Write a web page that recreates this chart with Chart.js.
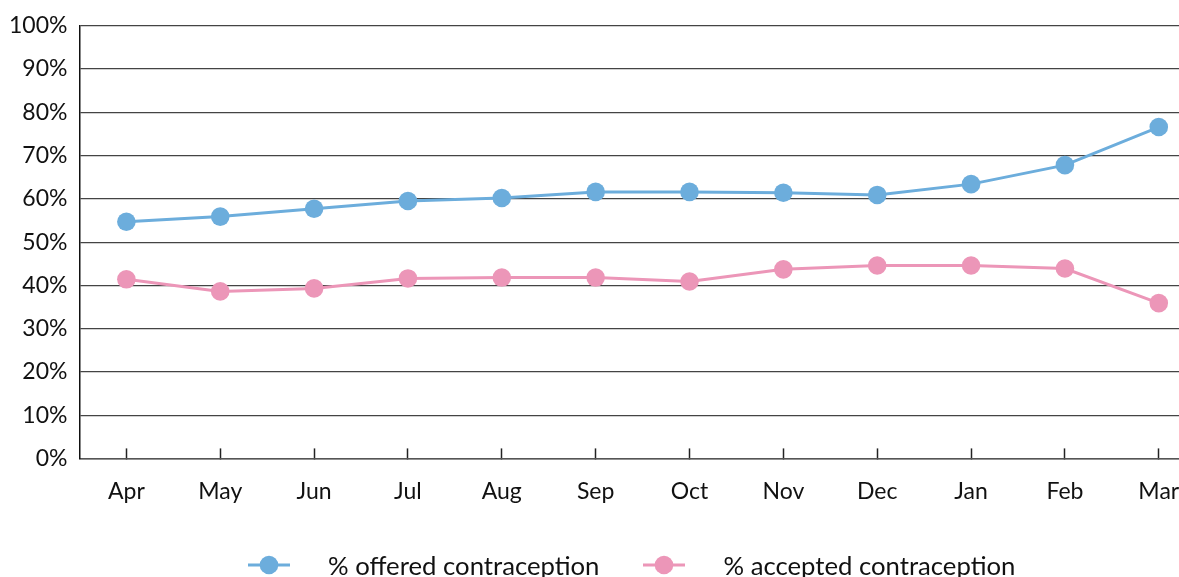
<!DOCTYPE html>
<html>
<head>
<meta charset="utf-8">
<script src="https://cdn.jsdelivr.net/npm/chart.js@4/dist/chart.umd.min.js"></script>
<style>
  html, body { margin: 0; padding: 0; background: #fff; overflow: hidden; }
  #wrap { position: absolute; left: -3px; top: 0; width: 1218px; height: 577px; }
  #legend {
    position: absolute; left: 248px; top: 550px; height: 30px;
    display: flex; align-items: center;
    font-family: Lato, "Open Sans", sans-serif; font-size: 25.7px; color: #111;
    white-space: nowrap;
  }
  #legend .item { display: flex; align-items: center; margin-right: 44px; }
  #legend svg { margin-right: 38px; }
</style>
</head>
<body>
<div id="wrap"><canvas id="lineChart" width="1218" height="577"></canvas></div>
<div id="legend"></div>
<script>
// data
const months = ['Apr', 'May', 'Jun', 'Jul', 'Aug', 'Sep', 'Oct', 'Nov', 'Dec', 'Jan', 'Feb', 'Mar'];
const offered = [54.7, 55.9, 57.7, 59.5, 60.2, 61.6, 61.6, 61.4, 60.9, 63.4, 67.8, 76.6];
const accepted = [41.4, 38.6, 39.3, 41.6, 41.8, 41.8, 40.9, 43.7, 44.6, 44.6, 43.9, 35.9];
const yTicks = [0, 10, 20, 30, 40, 50, 60, 70, 80, 90, 100];

const blue = '#6caddc';
const pink = '#ec96b8';
const fontFamily = 'Lato, "Open Sans", sans-serif';

// html legend built from the chart's own legend items
const htmlLegend = {
    id: 'htmlLegend',
    afterUpdate: function(chart) {
        const box = document.getElementById('legend');
        box.innerHTML = '';
        const items = chart.options.plugins.legend.labels.generateLabels(chart);
        items.forEach(function(item) {
            const el = document.createElement('div');
            el.className = 'item';
            const c = item.strokeStyle;
            el.innerHTML =
                '<svg width="42" height="20" viewBox="0 0 42 20">' +
                '<line x1="0" y1="10" x2="42" y2="10" stroke="' + c + '" stroke-width="3"/>' +
                '<circle cx="21" cy="10" r="9.3" fill="' + c + '"/></svg>';
            const txt = document.createElement('span');
            txt.textContent = item.text;
            el.appendChild(txt);
            box.appendChild(el);
        });
    }
};

document.addEventListener('DOMContentLoaded', function() {
    const canvas = document.getElementById('lineChart');

    new Chart(canvas.getContext('2d'), {
        type: 'line',
        data: {
            labels: months,
            datasets: [{
                label: '% offered contraception',
                data: offered,
                borderColor: blue,
                backgroundColor: blue,
                borderWidth: 3,
                pointRadius: 9.3,
                pointHoverRadius: 9.3,
                pointBorderWidth: 0,
                tension: 0
            }, {
                label: '% accepted contraception',
                data: accepted,
                borderColor: pink,
                backgroundColor: pink,
                borderWidth: 3,
                pointRadius: 9.3,
                pointHoverRadius: 9.3,
                pointBorderWidth: 0,
                tension: 0
            }]
        },
        plugins: [htmlLegend],
        options: {
            responsive: false,
            animation: false,
            layout: { padding: { top: 11, left: 0, right: 9, bottom: 43 } },
            plugins: {
                tooltip: { enabled: false },
                legend: { display: false }
            },
            scales: {
                x: {
                    offset: true,
                    grid: {
                        offset: false,
                        drawOnChartArea: false,
                        drawTicks: true,
                        tickLength: -10,
                        tickColor: '#222',
                        tickWidth: 1.5
                    },
                    border: { color: '#555', width: 1.5 },
                    ticks: {
                        padding: 29,
                        color: '#111',
                        font: { family: fontFamily, size: 23 },
                        maxRotation: 0
                    }
                },
                y: {
                    min: 0,
                    max: 100,
                    afterBuildTicks: function(axis) {
                        axis.ticks = yTicks.map(function(v) { return { value: v }; });
                    },
                    grid: { color: '#444', lineWidth: 1.2, drawTicks: false },
                    border: { color: '#111', width: 1.5 },
                    ticks: {
                        padding: 12,
                        color: '#111',
                        font: { family: fontFamily, size: 23 },
                        callback: function(v) { return v + '%'; }
                    }
                }
            }
        }
    });
});
</script>
</body>
</html>
